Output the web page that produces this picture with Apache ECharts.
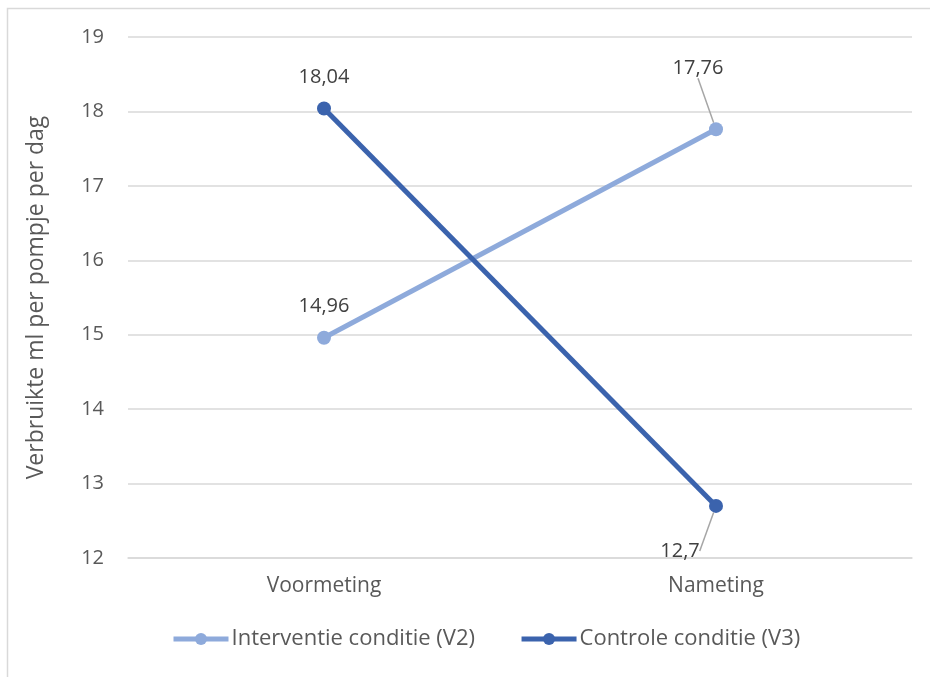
<!DOCTYPE html>
<html>
<head>
<meta charset="utf-8">
<script src="https://cdn.jsdelivr.net/npm/echarts@6/dist/echarts.min.js"></script>
<style>
	html, body { margin: 0; padding: 0; background: #fff; }
	#chart { width: 930px; height: 677px; }
</style>
</head>
<body>
<div id="chart"></div>
<script>
// data
var categories = ["Voormeting", "Nameting"];
var interventie = [14.96, 17.76];
var controle = [18.04, 12.7];
var seriesNames = ["Interventie conditie (V2)", "Controle conditie (V3)"];

var font = "'Open Sans', 'Noto Sans', sans-serif";
var lightBlue = "#8eaadb";
var darkBlue = "#3b63ad";
var leader = { show: true, lineStyle: { color: "#a6a6a6", width: 1.5 } };

function fmt(p) {
	return String(p.value).replace(".", ",");
}

let chart = echarts.init(document.getElementById("chart"));

let option = {
	animation: false,
	textStyle: { fontFamily: font },
	graphic: [
		{
			type: "rect",
			shape: { x: 7.5, y: 8.5, width: 1000, height: 1000 },
			style: { fill: "none", stroke: "#d9d9d9", lineWidth: 1.5 },
			silent: true
		}
	],
	grid: {
		left: 128,
		right: 18,
		top: 37,
		bottom: 119
	},
	legend: {
		bottom: 22,
		left: 166,
		itemWidth: 55,
		itemHeight: 15,
		itemGap: 44,
		lineStyle: { width: 5 },
		textStyle: { fontFamily: font, fontSize: 22, color: "#595959", padding: [0, 0, 0, -2] },
		data: seriesNames
	},
	xAxis: {
		type: "category",
		data: categories,
		boundaryGap: true,
		axisLine: { show: true, lineStyle: { color: "#d9d9d9", width: 1.5 } },
		axisTick: { show: false },
		axisLabel: { fontFamily: font, fontSize: 21, color: "#595959", margin: 18 }
	},
	yAxis: {
		type: "value",
		min: 12,
		max: 19,
		interval: 1,
		name: "Verbruikte ml per pompje per dag",
		nameLocation: "middle",
		nameGap: 80,
		nameTextStyle: { fontFamily: font, fontSize: 23, color: "#595959" },
		axisLine: { show: false },
		axisTick: { show: false },
		axisLabel: { fontFamily: font, fontSize: 20, color: "#595959", margin: 24 },
		splitLine: { lineStyle: { color: "#d9d9d9", width: 1.5 } }
	},
	series: [
		{
			name: seriesNames[0],
			type: "line",
			data: [
				{ value: interventie[0] },
				{ value: interventie[1], labelLine: leader }
			],
			symbol: "circle",
			symbolSize: 14,
			lineStyle: { color: lightBlue, width: 5 },
			itemStyle: { color: lightBlue },
			label: {
				show: true,
				position: "top",
				distance: 14,
				fontFamily: font,
				fontSize: 20,
				color: "#404040",
				formatter: fmt
			},
			labelLayout: function (p) {
				if (p.dataIndex === 1) return { dx: -18, dy: -30 };
				return {};
			}
		},
		{
			name: seriesNames[1],
			type: "line",
			data: [
				{ value: controle[0] },
				{ value: controle[1], label: { position: "bottom" }, labelLine: leader }
			],
			symbol: "circle",
			symbolSize: 14,
			lineStyle: { color: darkBlue, width: 5 },
			itemStyle: { color: darkBlue },
			label: {
				show: true,
				position: "top",
				distance: 14,
				fontFamily: font,
				fontSize: 20,
				color: "#404040",
				formatter: fmt
			},
			labelLayout: function (p) {
				if (p.dataIndex === 1) return { dx: -36, dy: 14 };
				return {};
			}
		}
	]
};

chart.setOption(option);
</script>
</body>
</html>
